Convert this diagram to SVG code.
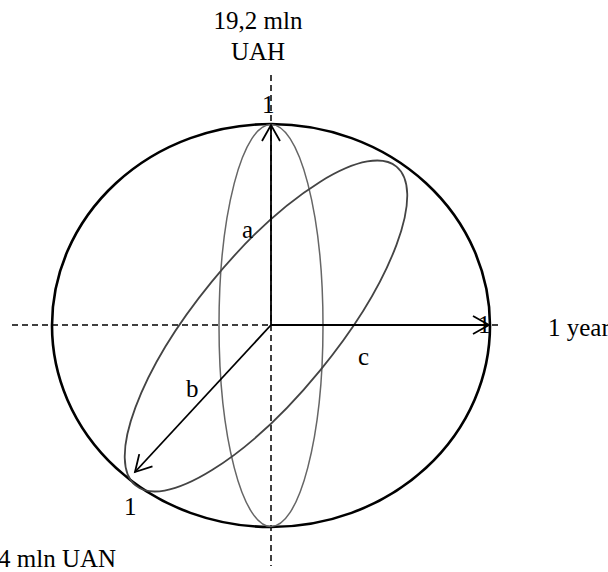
<svg xmlns="http://www.w3.org/2000/svg" width="608" height="572" viewBox="0 0 608 572">
<style>
text{font-family:"Liberation Serif","Times New Roman",serif;font-size:25px;fill:#000}
.dash{stroke:#000;stroke-width:1.5;stroke-dasharray:6,4;fill:none}
.arr{stroke:#000;stroke-width:1.8;fill:none;marker-end:url(#ah)}
</style>
<defs>
<marker id="ah" markerUnits="userSpaceOnUse" markerWidth="24" markerHeight="24" viewBox="0 0 24 24" refX="20" refY="12" orient="auto">
<path d="M4,3 L20,12 L4,21" fill="none" stroke="#000" stroke-width="1.8"/>
</marker>
</defs>
<rect width="608" height="572" fill="#fff"/>
<g id="axes">
<line class="dash" x1="271" y1="75" x2="271" y2="566"/>
<line class="dash" x1="12" y1="325" x2="498" y2="325"/>
</g>
<g id="sphere">
<ellipse cx="271" cy="325.5" rx="219" ry="201.5" fill="none" stroke="#000" stroke-width="2.6"/>
</g>
<g id="ellipse-a">
<ellipse cx="271" cy="325.5" rx="52" ry="201" fill="none" stroke="#666" stroke-width="1.5"/>
</g>
<g id="ellipse-b">
<ellipse cx="266" cy="326" rx="206" ry="70" transform="rotate(-50.7 266 326)" fill="none" stroke="#444" stroke-width="1.8"/>
</g>
<g id="connectors">
<line class="arr" x1="271" y1="325" x2="271" y2="125"/>
<line class="arr" x1="271" y1="325" x2="489" y2="325"/>
<line class="arr" x1="271" y1="325" x2="135" y2="472"/>
</g>
<g id="labels">
<text x="258" y="29" text-anchor="middle">19,2 mln</text>
<text x="258" y="60" text-anchor="middle">UAH</text>
<text x="262" y="113">1</text>
<text x="478" y="333">1</text>
<text x="548" y="336">1 year</text>
<text x="124" y="515">1</text>
<text x="-2" y="567">4 mln UAN</text>
<text x="242" y="238">a</text>
<text x="186" y="397">b</text>
<text x="358" y="365">c</text>
</g>
</svg>
